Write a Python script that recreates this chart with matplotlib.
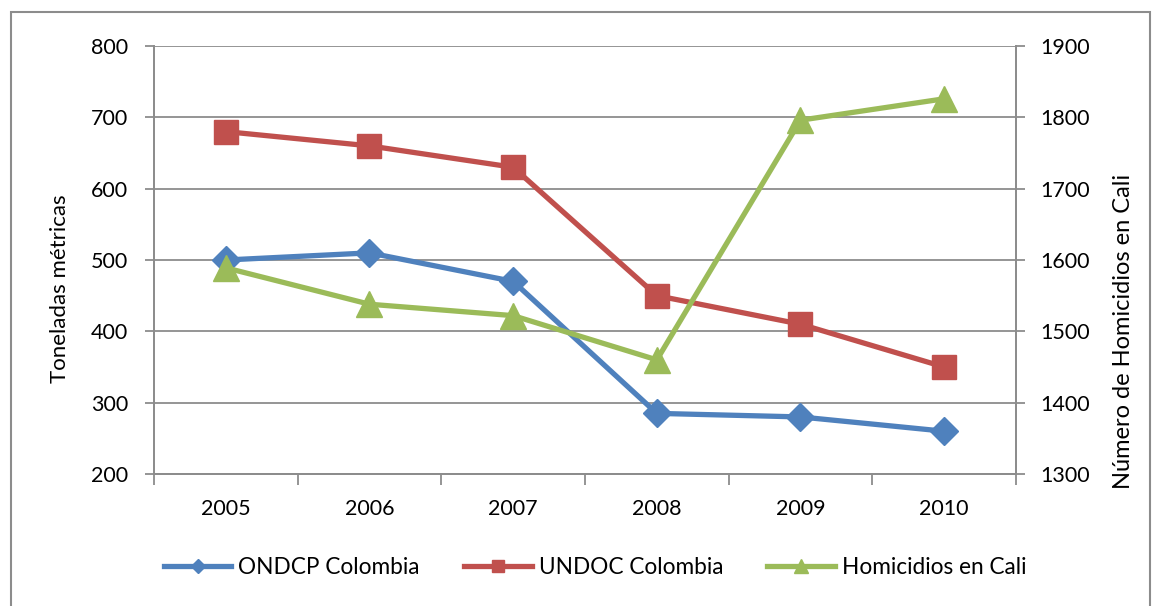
import matplotlib
matplotlib.use("Agg")
import matplotlib.pyplot as plt
from matplotlib.patches import Rectangle

# ---- data -----------------------------------------------------------------------
years = ["2005", "2006", "2007", "2008", "2009", "2010"]
ondcp = [500, 510, 470, 285, 280, 260]
undoc = [680, 660, 630, 450, 410, 350]
homicidios = [1589, 1538, 1522, 1460, 1796, 1826]

BLUE, RED, GREEN = "#4F81BD", "#C0504D", "#9BBB59"
GRID = "#8C8C8C"
FS = 15.5

plt.rcParams["font.family"] = ["Lato", "DejaVu Sans"]

fig = plt.figure(figsize=(11.55, 6.06), dpi=100)
ax = fig.add_axes([154 / 1155, 132 / 606, 862 / 1155, 428 / 606])
ax2 = ax.twinx()

x = list(range(len(years)))
ax.plot(x, ondcp, color=BLUE, lw=3.8, marker="D", ms=14, label="ONDCP Colombia", zorder=3)
ax.plot(x, undoc, color=RED, lw=3.8, marker="s", ms=17, label="UNDOC Colombia", zorder=3)
ax2.plot(x, homicidios, color=GREEN, lw=3.8, marker="^", ms=19, label="Homicidios en Cali", zorder=3)

ax.set_xlim(-0.5, len(years) - 0.5)
ax.set_ylim(200, 800)
ax2.set_ylim(1300, 1900)
ax.set_yticks(range(200, 801, 100))
ax2.set_yticks(range(1300, 1901, 100))

# category ticks between the years, labels at the centres
ax.set_xticks([i - 0.5 for i in range(len(years) + 1)])
ax.set_xticklabels([])
ax.set_xticks(x, minor=True)
ax.set_xticklabels(years, minor=True)
ax.tick_params(axis="x", which="major", length=8, color=GRID, width=1.3, direction="out")
ax.tick_params(axis="x", which="minor", length=0, pad=18, labelsize=FS)
ax.tick_params(axis="y", length=6.5, color=GRID, width=1.3, labelsize=FS, pad=12)
ax2.tick_params(axis="y", length=6.5, color=GRID, width=1.3, labelsize=FS, pad=11)

ax.yaxis.grid(True, color=GRID, lw=1.3)
ax.set_axisbelow(True)
for a in (ax, ax2):
    a.spines["top"].set_visible(False)
    for s in ("left", "right", "bottom"):
        a.spines[s].set_color(GRID)
        a.spines[s].set_linewidth(1.3)

fig.text(60 / 1155, 1 - 289 / 606, "Toneladas métricas", rotation=90,
         ha="center", va="center", fontsize=16)
fig.text(1123 / 1155, 1 - 331 / 606, "Número de Homicidios en Cali", rotation=90,
         ha="center", va="center", fontsize=17)

handles = ax.get_lines() + ax2.get_lines()
fig.legend(handles, [h.get_label() for h in handles], loc="center",
           bbox_to_anchor=(595 / 1155, 1 - 567 / 606), ncol=3, frameon=False,
           fontsize=16.3, handlelength=3.0, markerscale=0.5, columnspacing=1.95,
           handletextpad=0.3)

fig.patches.append(Rectangle((11 / 1155, -0.01), 1139 / 1155, 1 - 12 / 606 + 0.01,
                             transform=fig.transFigure, fill=False,
                             edgecolor=GRID, lw=1.5))

fig.savefig("out.png", dpi=100)
